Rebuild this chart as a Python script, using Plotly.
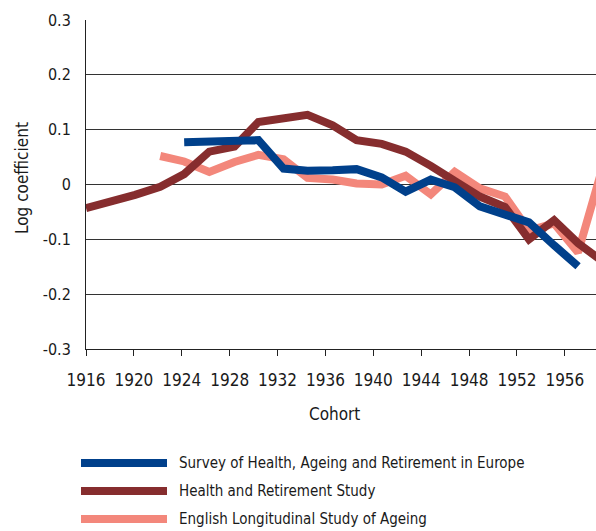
import plotly.graph_objects as go

# Cohort positions (points sit slightly off the even years)
cohort = [1916.0, 1918.1, 1920.1, 1922.2, 1924.2, 1926.3, 1928.4, 1930.4, 1932.5, 1934.5,
          1936.6, 1938.6, 1940.7, 1942.7, 1944.8, 1946.8, 1948.9, 1951.0, 1953.0, 1955.1,
          1957.1, 1959.2]

hrs = [-0.043, -0.032, -0.019, -0.004, 0.019, 0.060, 0.069, 0.114, 0.122, 0.127,
       0.108, 0.081, 0.074, 0.060, 0.034, 0.008, -0.022, -0.041, -0.100, -0.065,
       -0.107, -0.141]

share = [None, None, None, None, 0.077, 0.079, 0.082, 0.081, 0.029, 0.025,
         0.026, 0.028, 0.013, -0.013, 0.009, -0.005, -0.040, -0.053, -0.069, -0.111,
         -0.149, None]

elsa = [None, None, None, 0.052, 0.042, 0.023, 0.041, 0.054, 0.046, 0.012,
        0.009, 0.002, 0.000, 0.016, -0.018, 0.023, -0.007, -0.022, -0.084, -0.071,
        -0.124, 0.035]

series_names = ["Survey of Health, Ageing and Retirement in Europe",
                "Health and Retirement Study",
                "English Longitudinal Study of Ageing"]
colors = ["#00408b", "#862d2e", "#f3877b"]

x_ticks = list(range(1916, 1960, 4))
y_ticks = [-0.3, -0.2, -0.1, 0, 0.1, 0.2, 0.3]
y_tick_text = ["-0.3", "-0.2", "-0.1", "0", "0.1", "0.2", "0.3"]
x_title = "Cohort"
y_title = "Log coefficient"

FONT = "DejaVu Sans Condensed, sans-serif"
TXT = "#1a1a1a"

fig = go.Figure()
for name, vals, col in [(series_names[2], elsa, colors[2]),
                        (series_names[1], hrs, colors[1]),
                        (series_names[0], share, colors[0])]:
    fig.add_trace(go.Scatter(x=cohort, y=vals, mode="lines", name=name,
                             line=dict(color=col, width=8), showlegend=False,
                             connectgaps=False, hoverinfo="skip"))

W, H = 596, 531
ml, mr, mt, mb = 86, 0, 20, 182
PW, PH = W - ml - mr, H - mt - mb


def px(xp):
    return (xp - ml) / PW


def py(yp):
    return (H - mb - yp) / PH


fig.update_layout(
    width=W, height=H,
    margin=dict(l=ml, r=mr, t=mt, b=mb, pad=0),
    paper_bgcolor="white", plot_bgcolor="white",
    font=dict(family=FONT, size=16, color=TXT),
    showlegend=False,
    xaxis=dict(range=[1916, 1958.6], tickvals=x_ticks, ticktext=[str(v) for v in x_ticks],
               showgrid=False, zeroline=False, showline=True, linecolor="#222", linewidth=1,
               ticks="outside", ticklen=6, tickcolor="#222", automargin=False,
               ticklabelstandoff=10, tickfont=dict(size=17)),
    yaxis=dict(range=[-0.3, 0.3], tickvals=y_ticks, ticktext=y_tick_text,
               showgrid=True, gridcolor="#333", gridwidth=1, zeroline=False,
               showline=True, linecolor="#222", linewidth=1, ticks="", automargin=False,
               ticklabelstandoff=11, tickfont=dict(size=16)),
)

# axis titles
fig.add_annotation(xref="paper", yref="paper", x=px(334), y=py(414), text=x_title,
                   showarrow=False, xanchor="center", yanchor="middle",
                   font=dict(size=17, family=FONT, color=TXT))
fig.add_annotation(xref="paper", yref="paper", x=px(22), y=py(178), text=y_title,
                   showarrow=False, xanchor="center", yanchor="middle", textangle=-90,
                   font=dict(size=17, family=FONT, color=TXT))

# Manual legend with long line samples
legend_y = [463, 491, 519]
x0p, x1p = 81, 167
for i, (name, col) in enumerate(zip(series_names, colors)):
    yp = py(legend_y[i])
    fig.add_shape(type="line", xref="paper", yref="paper",
                  x0=px(x0p), x1=px(x1p), y0=yp, y1=yp,
                  line=dict(color=col, width=8))
    fig.add_annotation(xref="paper", yref="paper",
                       x=px(177), y=yp,
                       text=name, showarrow=False, xanchor="left", yanchor="middle",
                       font=dict(size=15, family=FONT, color=TXT))

fig.write_html("out.html", config={"displayModeBar": False, "staticPlot": True},
               post_script="document.body.style.margin='0';document.body.style.overflow='hidden';")
